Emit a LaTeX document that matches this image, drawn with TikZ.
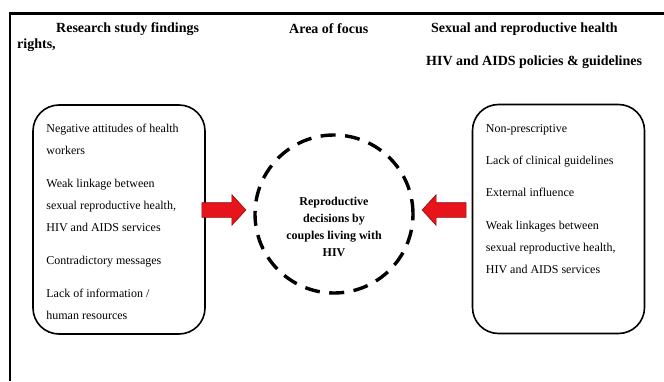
\documentclass[tikz,border=0pt]{standalone}
\usepackage{fontspec}
\setmainfont{Liberation Serif}
\usetikzlibrary{shapes.arrows, positioning}
\definecolor{ArrowRed}{HTML}{E8141B}
\definecolor{ArrowEdge}{HTML}{8A1010}

\tikzset{
  header/.style={font=\fontsize{14}{16}\selectfont\bfseries, anchor=west, inner sep=0pt},
  roundbox/.style={draw, line width=1.6pt, rounded corners=26pt, minimum width=172pt, minimum height=229pt},
  itemtext/.style={font=\fontsize{12}{22}\selectfont, align=left, anchor=north west, inner sep=0pt},
  redarrow/.style={single arrow, draw=ArrowEdge, fill=ArrowRed, line width=0.6pt, inner xsep=0pt, inner ysep=7pt, single arrow head extend=8pt, single arrow tip angle=95, minimum height=44pt}
}

\begin{document}
\begin{tikzpicture}[x=1pt, y=1pt]
  \useasboundingbox (0,0) rectangle (664,381);

  % Frame
  \draw[line width=2.6pt] (664,367.5) -- (10,367.5) -- (10,0);

  % Header texts
  \node[header] (hfind) at (56,352) {Research study findings};
  \node[header] (hrights) at (17,335.5) {rights,};
  \node[header] (hfocus) at (289,352) {Area of focus};
  \node[header] (hsex) at (431,352) {Sexual and reproductive health};
  \node[header] (hpol) at (426,318.5) {HIV and AIDS policies \& guidelines};

  % Findings box
  \node[roundbox] (lbox) at (119,161.5) {};
  \node[itemtext] (ltxt) at ([xshift=14pt,yshift=-20pt]lbox.north west)
    {Negative attitudes of health\\ workers\\[11pt]
     Weak linkage between\\ sexual reproductive health,\\ HIV and AIDS services\\[11pt]
     Contradictory messages\\[11pt]
     Lack of information /\\ human resources};

  % Policies box
  \node[roundbox] (rbox) at (558.5,162) {};
  \node[itemtext] (rtxt) at ([xshift=14pt,yshift=-20.5pt]rbox.north west)
    {Non-prescriptive\\[10pt]
     Lack of clinical guidelines\\[10pt]
     External influence\\[11pt]
     Weak linkages between\\ sexual reproductive health,\\ HIV and AIDS services};

  % Area of focus
  \node[circle, draw, line width=3.4pt, dash pattern=on 15pt off 9.5pt, minimum size=158pt] (focus) at (334,167) {};
  \node[align=center, font=\fontsize{12}{17}\selectfont\bfseries, inner sep=0pt] (focustxt)
    at ([yshift=-13pt]focus.center)
    {Reproductive\\ decisions by\\ couples living with\\ HIV};

  % Arrows into the circle
  \node[redarrow, anchor=tip] (arrl) at ([xshift=-7pt,yshift=4pt]focus.west) {};
  \node[redarrow, shape border rotate=180, anchor=tip] (arrr) at ([xshift=7pt,yshift=4pt]focus.east) {};
\end{tikzpicture}
\end{document}
